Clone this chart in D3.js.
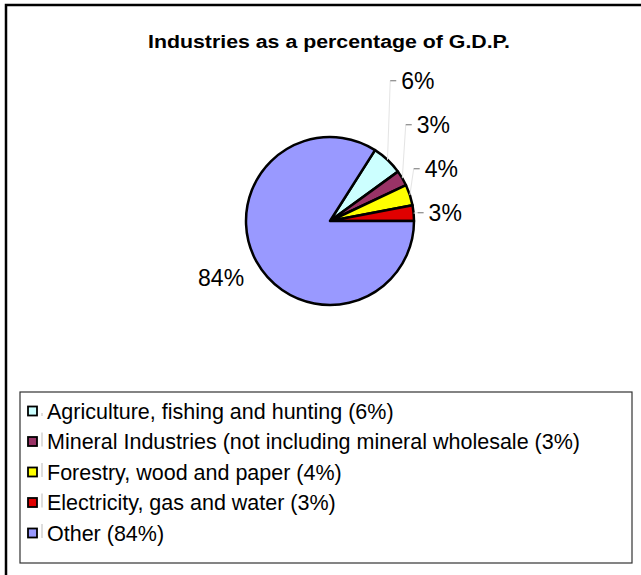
<!DOCTYPE html>
<html>
<head>
<meta charset="utf-8">
<script src="https://cdn.jsdelivr.net/npm/d3@7"></script>
<style>
  body { margin: 0; background: #fff; }
  svg text { font-family: "Liberation Sans", Arial, sans-serif; }
</style>
</head>
<body>
<div id="chart"></div>
<script>
// data
const categories = [
  "Agriculture, fishing and hunting",
  "Mineral Industries (not including mineral wholesale",
  "Forestry, wood and paper",
  "Electricity, gas and water",
  "Other"
];
const values = [6, 3, 4, 3, 84];
const colors = ["#CCFFFF", "#993366", "#FFFF00", "#E00000", "#9999FF"];
const chartTitle = "Industries as a percentage of G.D.P.";

const width = 641, height = 575;
const cx = 330, cy = 221, radius = 84;

const svg = d3.select("#chart").append("svg")
  .attr("width", width)
  .attr("height", height);

// outer chart frame (right/bottom edges fall outside the picture)
svg.append("rect")
  .attr("x", 6).attr("y", 5)
  .attr("width", 680).attr("height", 620)
  .attr("fill", "none")
  .attr("stroke", "#000")
  .attr("stroke-width", 2.5);

// excel stretched the title, so force its width
svg.append("text")
  .attr("x", cx - 1)
  .attr("y", 48)
  .attr("text-anchor", "middle")
  .attr("font-weight", "bold")
  .attr("font-size", "17.5px")
  .attr("textLength", 362)
  .attr("lengthAdjust", "spacingAndGlyphs")
  .text(chartTitle);

// first four slices sit counter-clockwise above 3 o'clock, so start there
const total = d3.sum(values);
const smallShare = d3.sum(values.slice(0, 4)) / total;
const a0 = Math.PI / 2 - smallShare * 2 * Math.PI;

const pie = d3.pie().sort(null).startAngle(a0).endAngle(a0 + 2 * Math.PI);
const arcs = pie(values);
const arc = d3.arc().innerRadius(0).outerRadius(radius);

const g = svg.append("g").attr("transform", `translate(${cx},${cy})`);

g.selectAll("path.slice")
  .data(arcs)
  .enter()
  .append("path")
  .classed("slice", true)
  .attr("d", arc)
  .attr("fill", (d, i) => colors[i])
  .attr("stroke", "#000")
  .attr("stroke-width", 2.5)
  .attr("stroke-linejoin", "round");

// labels: radial x, pushed up so they don't overlap (like excel does)
const pointAt = (angle, r) => [Math.sin(angle) * r, -Math.cos(angle) * r];
const labelGap = 44;
const labels = arcs.map((d, i) => {
  const mid = (d.startAngle + d.endAngle) / 2;
  return { i: i, mid: mid, edge: pointAt(mid, radius), pos: pointAt(mid, radius + 4) };
});

// right side labels, bottom one first
const right = labels.slice(0, 4).reverse();
let prevY = null;
right.forEach(l => {
  if (prevY !== null && l.pos[1] > prevY - labelGap) l.pos[1] = prevY - labelGap;
  prevY = l.pos[1];
});

const fmt = v => Math.round(v / total * 100) + "%";

right.forEach(l => {
  g.append("line")
    .attr("x1", l.edge[0]).attr("y1", l.edge[1])
    .attr("x2", l.pos[0]).attr("y2", l.pos[1])
    .attr("stroke", "#e4e4e4")
    .attr("stroke-width", 1);
  g.append("line")
    .attr("x1", l.pos[0]).attr("y1", l.pos[1])
    .attr("x2", l.pos[0] + 6).attr("y2", l.pos[1])
    .attr("stroke", "#888")
    .attr("stroke-width", 1.2);
  g.append("text")
    .attr("x", l.pos[0] + 11)
    .attr("y", l.pos[1])
    .attr("dy", "0.36em")
    .attr("font-size", "23px")
    .text(fmt(values[l.i]));
});

// "Other" label on the left
const other = labels[4];
const otherPos = pointAt(other.mid, radius + 14);
g.append("text")
  .attr("x", otherPos[0])
  .attr("y", otherPos[1] + 10)
  .attr("dy", "0.36em")
  .attr("text-anchor", "end")
  .attr("font-size", "23px")
  .text(fmt(values[4]));

// legend
const legendX = 20, legendY = 392, legendW = 612, legendH = 171;
const legend = svg.append("g");
legend.append("rect")
  .attr("x", legendX).attr("y", legendY)
  .attr("width", legendW).attr("height", legendH)
  .attr("fill", "#fff")
  .attr("stroke", "#333")
  .attr("stroke-width", 1.2);

const rowY = d3.scalePoint()
  .domain(categories)
  .range([legendY + 19, legendY + 141]);

const rows = legend.selectAll("g.row")
  .data(categories)
  .enter()
  .append("g")
  .classed("row", true)
  .attr("transform", d => `translate(0,${rowY(d)})`);

rows.append("rect")
  .attr("x", 28).attr("y", -4.5)
  .attr("width", 9).attr("height", 9)
  .attr("fill", (d, i) => colors[i])
  .attr("stroke", "#000")
  .attr("stroke-width", 1.8);

// faint leftover leader ticks between swatch and text
rows.append("line")
  .attr("x1", 42).attr("x2", 42)
  .attr("y1", (d, i) => i === 0 ? 2 : -9)
  .attr("y2", 5)
  .attr("stroke", "#bbb")
  .attr("stroke-width", 1);

rows.append("text")
  .attr("x", 47)
  .attr("y", 0)
  .attr("dy", "0.36em")
  .attr("font-size", "21.5px")
  .text((d, i) => d + " (" + fmt(values[i]) + ")");
</script>
</body>
</html>
